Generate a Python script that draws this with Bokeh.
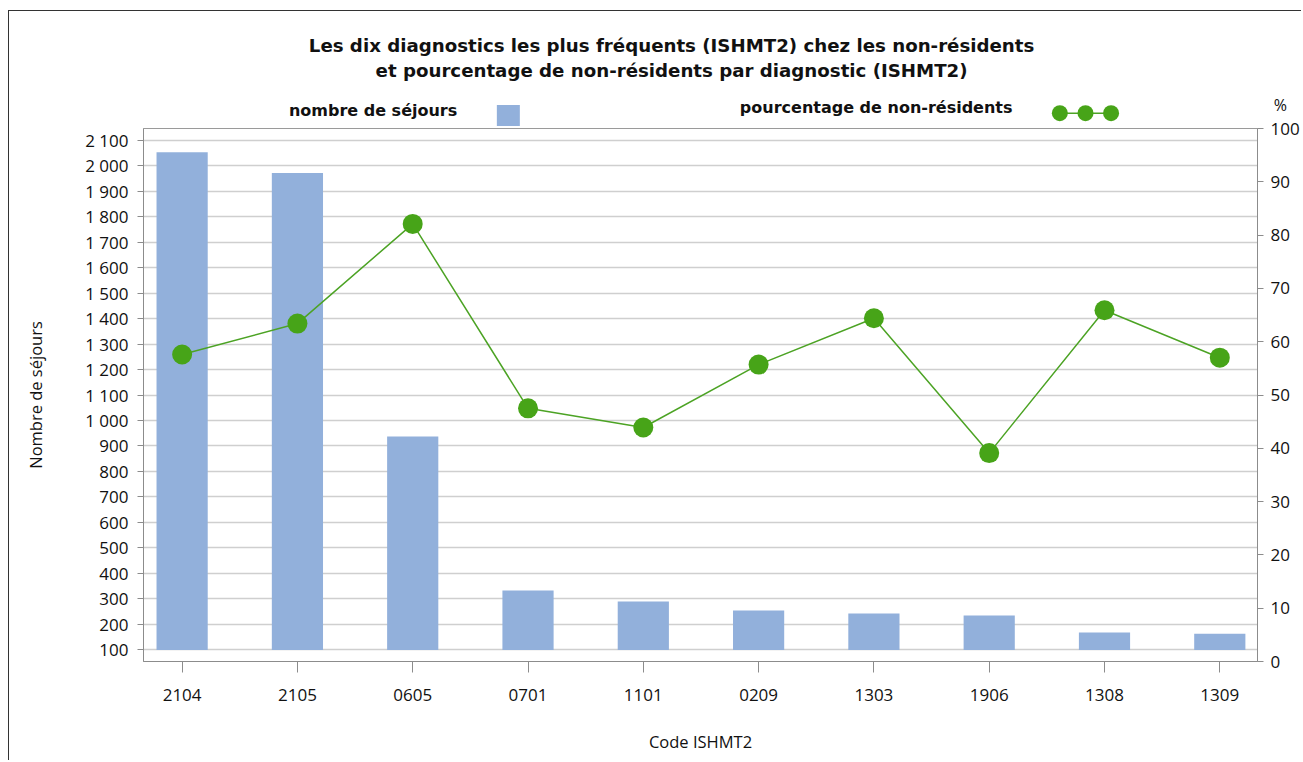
from bokeh.plotting import figure
from bokeh.models import Range1d, LinearAxis, FixedTicker, CustomJSTickFormatter
from bokeh.core.properties import value
from bokeh.embed import file_html
from bokeh.resources import INLINE

# ---- data ----
categories = ["2104", "2105", "0605", "0701", "1101", "0209", "1303", "1906", "1308", "1309"]
sejours = [2052, 1971, 937, 333, 290, 255, 243, 235, 169, 164]
pourcentages = [57.6, 63.4, 82.1, 47.5, 43.9, 55.7, 64.4, 39.1, 65.9, 57.0]
left_ticks = list(range(100, 2101, 100))
right_ticks = list(range(0, 101, 10))
title_lines = [
    "Les dix diagnostics les plus fréquents (ISHMT2) chez les non-résidents",
    "et pourcentage de non-résidents par diagnostic (ISHMT2)",
]
legend_labels = ["nombre de séjours", "pourcentage de non-résidents"]
x_title = "Code ISHMT2"
y_title = "Nombre de séjours"
y2_title = "%"

BAR = "#92b0db"
GREEN = "#47a418"
LINE = "#4ca324"
FONT = "Open Sans"
BOLD_FONT = "DejaVu Sans"
TXT = "#111111"

x = list(range(len(categories)))

# ---- layout (page pixels) ----
W, H = 1293, 750
OX, OY = 9, 11                        # canvas origin on the page
FL, FR, FT, FB = 143, 1259, 128, 661  # frame edges on the page
X0, X1 = -0.335, 9.327
Y0, Y1 = 54.9, 2145.1


def xd(px):
    return X0 + (px - FL) / (FR - FL) * (X1 - X0)


def yd(py):
    return Y0 + (FB - py) / (FB - FT) * (Y1 - Y0)


p = figure(width=W, height=H, output_backend="svg", toolbar_location=None,
           x_range=Range1d(X0, X1), y_range=Range1d(Y0, Y1),
           min_border_left=FL - OX, min_border_right=W - (FR - OX),
           min_border_top=FT - OY, min_border_bottom=H - (FB - OY))
p.styles = {"border-top": "1px solid #333333", "border-left": "1px solid #333333",
            "margin-top": "10px", "margin-left": "8px"}
p.background_fill_color = "white"
p.border_fill_color = "white"
p.outline_line_color = "#9a9a9a"
p.title.visible = False

p.extra_y_ranges = {"pct": Range1d(0, 100)}

AX = "#8c8c8c"
bottom = p.below[0]
left = p.left[0]
bottom.ticker = FixedTicker(ticks=x)
bottom.formatter = CustomJSTickFormatter(args=dict(cats=categories),
                                         code="return cats[Math.round(tick)] || '';")
left.ticker = FixedTicker(ticks=left_ticks)
left.formatter = CustomJSTickFormatter(
    code="return tick.toFixed(0).replace(/\\B(?=(\\d{3})+(?!\\d))/g, '\\u00a0');")

right = LinearAxis(y_range_name="pct", ticker=FixedTicker(ticks=right_ticks))
p.add_layout(right, "right")

for ax in [bottom, left, right]:
    ax.axis_line_color = AX
    ax.major_tick_line_color = AX
    ax.minor_tick_line_color = None
    ax.major_tick_in = 0
    ax.major_label_text_font = FONT
    ax.major_label_text_font_size = "17px"
    ax.major_label_text_color = TXT
    ax.axis_label_text_font = FONT
    ax.axis_label_text_font_size = "16.5px"
    ax.axis_label_text_font_style = "normal"
    ax.axis_label_text_color = TXT

bottom.major_tick_out = 11
bottom.major_label_standoff = 16
bottom.axis_label = x_title
bottom.axis_label_standoff = 26

left.major_tick_out = 6
left.major_label_standoff = 9
left.axis_label = y_title
left.axis_label_standoff = 35

right.major_tick_out = 6
right.major_label_standoff = 7

p.xgrid.visible = False
p.ygrid.ticker = FixedTicker(ticks=left_ticks)
p.ygrid.grid_line_color = "#cfcfcf"
p.ygrid.grid_line_width = 1.5

# bars
p.vbar(x=x, top=sejours, bottom=left_ticks[0], width=0.444,
       fill_color=BAR, line_color=None)

# line + markers
p.line(x, pourcentages, y_range_name="pct", line_color=LINE, line_width=1.5)
p.scatter(x, pourcentages, y_range_name="pct", size=20, marker="circle",
          fill_color=GREEN, line_color=None)

# titles (text glyphs drawn in the overlay level, outside the frame)
p.text(x=[xd(672)] * 2, y=[yd(45), yd(70)], text=title_lines,
       text_font=value(BOLD_FONT), text_font_style="bold", text_font_size="18.2px",
       text_align="center", text_baseline="middle", text_color=TXT,
       level="overlay")

# legend texts
p.text(x=[xd(373), xd(877)], y=[yd(110), yd(107)], text=legend_labels,
       text_font=value(BOLD_FONT), text_font_style="bold", text_font_size="16px",
       text_align="center", text_baseline="middle", text_color=TXT,
       level="overlay")

# legend glyphs
p.rect(x=[xd(508.5)], y=[yd(115)], width=23, height=21, width_units="screen",
       height_units="screen", fill_color=BAR, line_color=None, level="overlay")
lx = [xd(1061), xd(1086.7), xd(1112.3)]
ly = [yd(112.7)] * 3
p.line(lx, ly, line_color=LINE, line_width=1.5, level="overlay")
p.rect(x=lx, y=ly, width=16, height=16, width_units="screen",
       height_units="screen", border_radius=8, fill_color=GREEN,
       line_color=None, level="overlay")

# "%" over the right axis
p.text(x=[xd(1282)], y=[yd(104)], text=[y2_title], text_font=value(FONT),
       text_font_size="16px", text_align="center", text_baseline="middle",
       text_color=TXT, level="overlay")

open("out.html", "w").write(file_html(p, INLINE))
